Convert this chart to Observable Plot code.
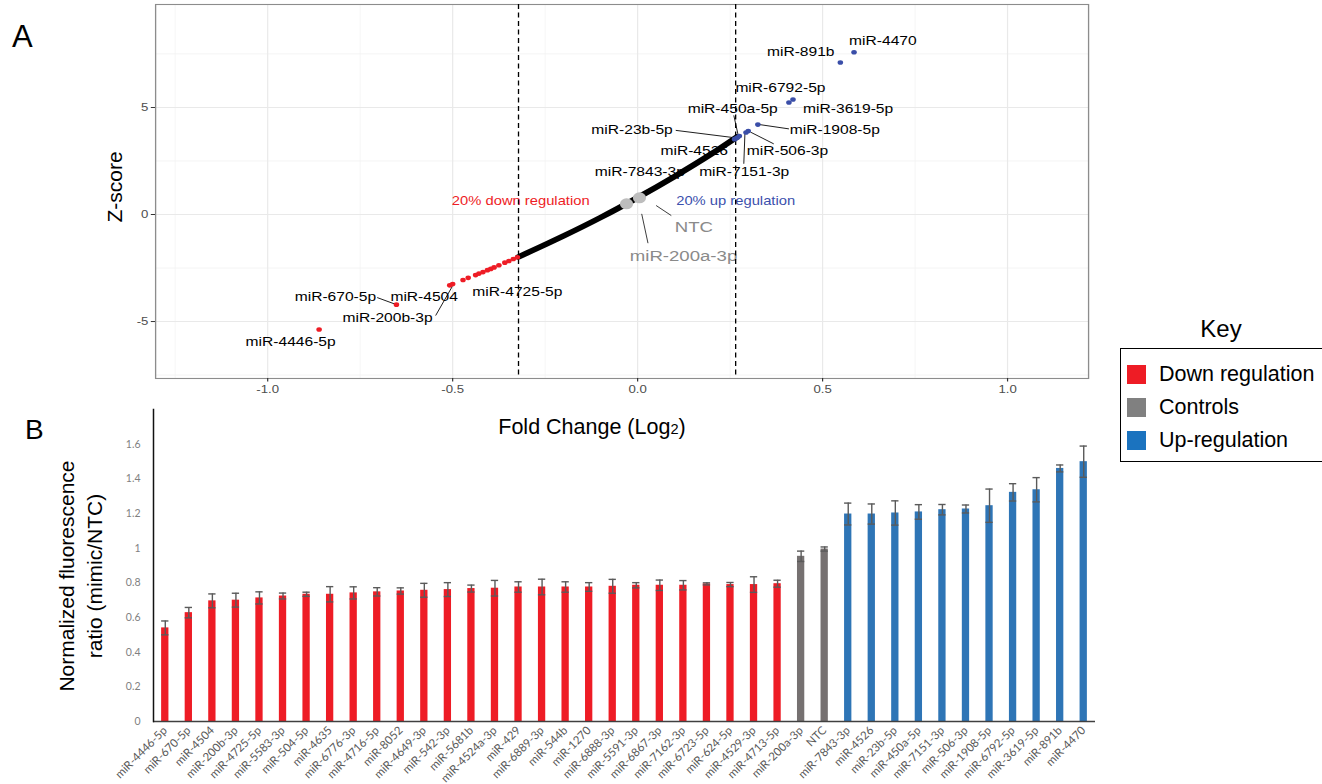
<!DOCTYPE html>
<html>
<head>
<meta charset="utf-8">
<script src="https://cdn.jsdelivr.net/npm/d3@7"></script>
<script src="https://cdn.jsdelivr.net/npm/@observablehq/plot@0.6"></script>
<style>
  html, body { margin: 0; padding: 0; background: #fff; }
  #wrap { position: relative; width: 1322px; height: 784px; overflow: hidden; font-family: "Liberation Sans", Arial, Helvetica, sans-serif; color: #000; }
  .abs { position: absolute; white-space: nowrap; line-height: 1; }
</style>
</head>
<body>
<div id="wrap"></div>
<script>
// ---------------- Panel A data ----------------
const xMajorTicks = [-1, -0.5, 0, 0.5, 1];
const xMinorTicks = [-1.25, -0.75, -0.25, 0.25, 0.75];
const yMajorTicks = [-5, 0, 5];
const yMinorTicks = [-7.5, -2.5, 2.5, 7.5];
const thresholds = [-0.322, 0.265];           // 20% down / 20% up (log2)

// dense screen (black curve), read at several positions
const curveX = [-0.322, -0.25, -0.2, -0.1, 0, 0.1, 0.2, 0.268];
const curveY = [-1.98, -1.41, -1.0, -0.14, 0.79, 1.78, 2.84, 3.62];

// down-regulated hits (red)
const downX = [-0.861, -0.652, -0.508, -0.500, -0.472, -0.458, -0.438, -0.429, -0.418, -0.406, -0.397, -0.388, -0.375, -0.359, -0.348, -0.336, -0.325];
const downY = [-5.37, -4.21, -3.31, -3.25, -3.06, -2.96, -2.83, -2.76, -2.69, -2.60, -2.54, -2.47, -2.37, -2.25, -2.17, -2.08, -2.00];

// up-regulated hits (blue)
const upX = [0.585, 0.548, 0.420, 0.409, 0.325, 0.299, 0.293, 0.275, 0.270, 0.265, 0.262];
const upY = [7.58, 7.10, 5.37, 5.23, 4.20, 3.90, 3.83, 3.67, 3.60, 3.55, 3.52];

// controls (grey)
const ctrlX = [-0.030, 0.005];
const ctrlY = [0.50, 0.78];

// hit labels
const labelText = ["miR-4446-5p", "miR-670-5p", "miR-4504", "miR-200b-3p", "miR-4725-5p", "miR-4470", "miR-891b", "miR-6792-5p", "miR-3619-5p", "miR-450a-5p", "miR-23b-5p", "miR-1908-5p", "miR-4526", "miR-506-3p", "miR-7843-3p", "miR-7151-3p"];
const labelX = [-0.938, -0.817, -0.577, -0.676, -0.325, 0.663, 0.441, 0.386, 0.569, 0.257, -0.015, 0.533, 0.153, 0.405, 0.006, 0.288];
const labelY = [-5.93, -3.83, -3.83, -4.81, -3.60, 8.09, 7.62, 5.92, 4.95, 4.95, 3.97, 3.97, 2.98, 2.98, 1.98, 1.98];
// label connector segments
const segX1 = [-0.704, -0.546, 0.260, 0.103, 0.330, 0.305, 0.290];
const segY1 = [-3.88, -4.72, 4.63, 3.93, 4.20, 3.85, 3.77];
const segX2 = [-0.652, -0.501, 0.272, 0.265, 0.409, 0.368, 0.287];
const segY2 = [-4.21, -3.36, 3.69, 3.58, 4.00, 3.30, 2.37];

const ctrlLabelText = ["NTC", "miR-200a-3p"];
const ctrlLabelX = [0.152, 0.124];
const ctrlLabelY = [-0.59, -1.92];
const ctrlSegX1 = [0.050, 0.011];
const ctrlSegY1 = [0.42, 0.03];
const ctrlSegX2 = [0.091, 0.028];
const ctrlSegY2 = [-0.05, -1.34];

const noteText = ["20% down regulation", "20% up regulation"];
const noteX = [-0.316, 0.265];
const noteY = [0.61, 0.61];

// ---------------- Panel B data ----------------
const barNames = ["miR-4446-5p","miR-670-5p","miR-4504","miR-200b-3p","miR-4725-5p","miR-5583-3p","miR-504-5p","miR-4635","miR-6776-3p","miR-4716-5p","miR-8052","miR-4649-3p","miR-542-3p","miR-5681b","miR-4524a-3p","miR-429","miR-6889-3p","miR-544b","miR-1270","miR-6888-3p","miR-5591-3p","miR-6867-3p","miR-7162-3p","miR-6723-5p","miR-624-5p","miR-4529-3p","miR-4713-5p","miR-200a-3p","NTC","miR-7843-3p","miR-4526","miR-23b-5p","miR-450a-5p","miR-7151-3p","miR-506-3p","miR-1908-5p","miR-6792-5p","miR-3619-5p","miR-891b","miR-4470"];
const barValues = [0.54,0.628,0.696,0.70,0.713,0.724,0.734,0.734,0.742,0.748,0.753,0.757,0.761,0.767,0.769,0.776,0.776,0.776,0.776,0.78,0.786,0.786,0.786,0.794,0.79,0.79,0.795,0.953,0.995,1.197,1.197,1.203,1.209,1.222,1.226,1.245,1.322,1.337,1.46,1.499];
const barErrors = [0.04,0.03,0.04,0.04,0.035,0.017,0.012,0.044,0.035,0.024,0.018,0.04,0.04,0.02,0.045,0.03,0.045,0.03,0.025,0.04,0.015,0.03,0.027,0.006,0.012,0.045,0.02,0.03,0.012,0.063,0.058,0.07,0.042,0.03,0.023,0.096,0.05,0.07,0.02,0.09];
const barGroups = ["d","d","d","d","d","d","d","d","d","d","d","d","d","d","d","d","d","d","d","d","d","d","d","d","d","d","d","c","c","u","u","u","u","u","u","u","u","u","u","u"];
const yTicksB = [0, 0.2, 0.4, 0.6, 0.8, 1, 1.2, 1.4, 1.6];
const groupKeys = ["d", "c", "u"];
const legendLabels = ["Down regulation", "Controls", "Up-regulation"];

// ---------------- styling ----------------
const FONT = "Liberation Sans, Arial, Helvetica, sans-serif";
const RED = "#ee1c25", BLUE_PT = "#3a4ea8", GREY_PT = "#bdbdbd";
const BAR_COLORS = ["#ee1c25", "#767171", "#2e75b6"];
const LEGEND_COLORS = ["#ee1c25", "#808080", "#1b73bf"];
const STRETCH = 1.2; // panel A is drawn horizontally stretched in the reference

const wrap = document.getElementById("wrap");

// ---------------- Panel A ----------------
const curve = curveX.map((x, i) => ({x, y: curveY[i]}));
const down = downX.map((x, i) => ({x, y: downY[i]}));
const up = upX.map((x, i) => ({x, y: upY[i]}));
const ctrl = ctrlX.map((x, i) => ({x, y: ctrlY[i]}));
const labels = labelText.map((t, i) => ({t, x: labelX[i], y: labelY[i]}));
const segs = segX1.map((x1, i) => ({x1, y1: segY1[i], x2: segX2[i], y2: segY2[i]}));
const ctrlLabels = ctrlLabelText.map((t, i) => ({t, x: ctrlLabelX[i], y: ctrlLabelY[i]}));
const ctrlSegs = ctrlSegX1.map((x1, i) => ({x1, y1: ctrlSegY1[i], x2: ctrlSegX2[i], y2: ctrlSegY2[i]}));
const notes = noteText.map((t, i) => ({t, x: noteX[i], y: noteY[i], c: i === 0 ? RED : "#3b50ad"}));

const topPlot = Plot.plot({
  width: 1100 / STRETCH,
  height: 400,
  marginLeft: 155 / STRETCH,
  marginRight: 12 / STRETCH,
  marginTop: 4,
  marginBottom: 22,
  x: {domain: [-1.303, 1.219]},
  y: {domain: [-7.66, 9.81]},
  style: {fontFamily: FONT, fontSize: "11px", color: "#4d4d4d", background: "transparent", overflow: "visible"},
  marks: [
    Plot.ruleX(xMinorTicks, {stroke: "#f3f3f3", strokeWidth: 0.7}),
    Plot.ruleY(yMinorTicks, {stroke: "#f3f3f3", strokeWidth: 0.8}),
    Plot.ruleX(xMajorTicks, {stroke: "#e9e9e9", strokeWidth: 1}),
    Plot.ruleY(yMajorTicks, {stroke: "#e9e9e9", strokeWidth: 1.1}),
    Plot.frame({stroke: "#8c8c8c", strokeWidth: 1.1}),
    Plot.axisX({ticks: xMajorTicks, tickFormat: d => d.toFixed(1), tickSize: 3.5, tickPadding: 3, label: null, fontSize: 11, stroke: "#333"}),
    Plot.axisY({ticks: yMajorTicks, tickFormat: d => String(d), tickSize: 3.5, tickPadding: 2.5, label: null, fontSize: 11, stroke: "#333"}),
    Plot.text(labels, {x: "x", y: "y", text: "t", fill: "#000", fontSize: 13, fontFamily: FONT}),
    Plot.text(ctrlLabels, {x: "x", y: "y", text: "t", fill: "#8a8a8a", fontSize: 15.5, fontFamily: FONT}),
    Plot.text(notes, {x: "x", y: "y", text: "t", fill: "c", fontSize: 12.3, fontFamily: FONT}),
    Plot.link(segs, {x1: "x1", y1: "y1", x2: "x2", y2: "y2", stroke: "#000", strokeWidth: 0.8}),
    Plot.link(ctrlSegs, {x1: "x1", y1: "y1", x2: "x2", y2: "y2", stroke: "#222", strokeWidth: 0.8}),
    Plot.line(curve, {x: "x", y: "y", stroke: "#000", strokeWidth: 5.5, curve: "monotone-x"}),
    Plot.ruleX(thresholds, {stroke: "#000", strokeWidth: 1.1, strokeDasharray: "5,3.5"}),
    Plot.dot(down, {x: "x", y: "y", r: 2.3, fill: RED, stroke: "none"}),
    Plot.dot(up, {x: "x", y: "y", r: 2.3, fill: BLUE_PT, stroke: "none"}),
    Plot.dot(ctrl, {x: "x", y: "y", r: 5.5, fill: GREY_PT, stroke: "none"})
  ]
});
topPlot.style.position = "absolute";
topPlot.style.left = "0px";
topPlot.style.top = "0px";
topPlot.style.maxWidth = "none";
topPlot.style.transformOrigin = "0 0";
topPlot.style.transform = `scaleX(${STRETCH})`;
wrap.appendChild(topPlot);

// ---------------- Panel B ----------------
const bars = barNames.map((name, i) => ({
  name, value: barValues[i], lo: barValues[i] - barErrors[i], hi: barValues[i] + barErrors[i], group: barGroups[i]
}));

const bottomPlot = Plot.plot({
  width: 1100,
  height: 384,
  marginLeft: 153,
  marginRight: 5,
  marginTop: 9,
  marginBottom: 63,
  x: {domain: barNames, paddingInner: 0.69, paddingOuter: 0.345, round: false},
  y: {domain: [0, 1.8]},
  color: {domain: groupKeys, range: BAR_COLORS},
  style: {fontFamily: "Lato, " + FONT, fontSize: "11px", color: "#595959", background: "transparent", overflow: "visible"},
  marks: [
    Plot.barY(bars, {x: "name", y: "value", fill: "group"}),
    Plot.ruleX(bars, {x: "name", y1: "lo", y2: "hi", stroke: "#5a5a5a", strokeWidth: 1.4}),
    Plot.tickY(bars, {x: "name", y: "lo", stroke: "#5a5a5a", strokeWidth: 1.4}),
    Plot.tickY(bars, {x: "name", y: "hi", stroke: "#5a5a5a", strokeWidth: 1.4}),
    Plot.ruleY([0], {stroke: "#404040", strokeWidth: 1.6}),
    Plot.frame({anchor: "left", stroke: "#111", strokeWidth: 1.5}),
    Plot.axisY({ticks: yTicksB, tickFormat: d => String(d), tickSize: 0, tickPadding: 13, label: null, fontSize: 10.5, fill: "#7f7f7f"}),
    Plot.axisX({tickRotate: -45, tickSize: 0, tickPadding: 7, label: null, fontSize: 11.5, fill: "#595959"})
  ]
});
bottomPlot.style.position = "absolute";
bottomPlot.style.left = "0px";
bottomPlot.style.top = "400px";
bottomPlot.style.maxWidth = "none";
wrap.appendChild(bottomPlot);

// ---------------- HTML texts ----------------
function addText(html, css) {
  const d = document.createElement("div");
  d.className = "abs";
  d.innerHTML = html;
  Object.assign(d.style, css);
  wrap.appendChild(d);
  return d;
}
addText("A", {left: "12px", top: "21px", fontSize: "31px"});
addText("B", {left: "25px", top: "416px", fontSize: "28px"});
addText("Z-score", {left: "114px", top: "187px", fontSize: "21px", transform: "translate(-50%,-50%) rotate(-90deg)"});
addText('Fold Change (Log<span style="font-size:0.68em">2</span>)', {left: "592px", top: "417px", fontSize: "21.5px", transform: "translateX(-50%)"});
addText("Normalized fluorescence<br>ratio (mimic/NTC)", {left: "81px", top: "576px", fontSize: "21px", lineHeight: "28px", textAlign: "center", transform: "translate(-50%,-50%) rotate(-90deg)"});

// legend
addText("Key", {left: "1221px", top: "317px", fontSize: "24px", transform: "translateX(-50%)"});
const box = document.createElement("div");
Object.assign(box.style, {position: "absolute", left: "1120px", top: "348px", width: "210px", height: "114px", border: "1.3px solid #000", boxSizing: "border-box"});
wrap.appendChild(box);
const itemY = [374, 407, 440];
legendLabels.forEach((lab, i) => {
  const sw = document.createElement("div");
  Object.assign(sw.style, {position: "absolute", left: "1127px", top: (itemY[i] - 9.5) + "px", width: "19px", height: "19px", background: LEGEND_COLORS[i]});
  wrap.appendChild(sw);
  addText(lab, {left: "1159px", top: (itemY[i] - 10.5) + "px", fontSize: "21.5px"});
});
</script>
</body>
</html>
